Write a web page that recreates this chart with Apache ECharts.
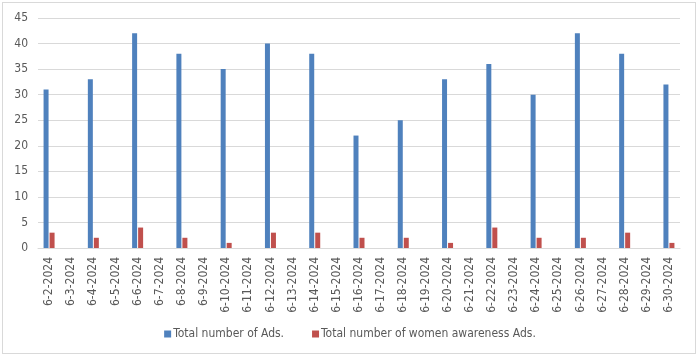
<!DOCTYPE html>
<html><head><meta charset="utf-8">
<script src="https://cdn.jsdelivr.net/npm/echarts@6/dist/echarts.min.js"></script>
<style>
html,body{margin:0;padding:0;background:#fff;}
#frame{position:absolute;left:2px;top:2px;width:694px;height:352px;border:1px solid #d9d9d9;box-sizing:border-box;}
#c{position:absolute;left:0;top:0;width:700px;height:358px;}
</style></head>
<body><div id="frame"></div><div id="c"></div>
<script>
const categories = ["6-2-2024","6-3-2024","6-4-2024","6-5-2024","6-6-2024","6-7-2024","6-8-2024","6-9-2024","6-10-2024","6-11-2024","6-12-2024","6-13-2024","6-14-2024","6-15-2024","6-16-2024","6-17-2024","6-18-2024","6-19-2024","6-20-2024","6-21-2024","6-22-2024","6-23-2024","6-24-2024","6-25-2024","6-26-2024","6-27-2024","6-28-2024","6-29-2024","6-30-2024"];
const totalAds = [31,null,33,null,42,null,38,null,35,null,40,null,38,null,22,null,25,null,33,null,36,null,30,null,42,null,38,null,32];
const womenAds = [3,null,2,null,4,null,2,null,1,null,3,null,3,null,2,null,2,null,1,null,4,null,2,null,2,null,3,null,1];
const yTicks = {min:0, max:45, interval:5};

const FONT = '"Liberation Sans Narrow","DejaVu Sans Condensed",sans-serif';
const chart = echarts.init(document.getElementById('c'), null, {renderer:'canvas'});
chart.setOption({
  animation:false,
  backgroundColor:'transparent',
  grid:{left:38, right:20, top:18, bottom:110, containLabel:false},
  legend:{
    top:323, left:'center', itemWidth:7, itemHeight:7, itemGap:28,
    icon:'rect',
    textStyle:{color:'#595959', fontSize:12, fontFamily:FONT, padding:[0,0,0,-3]},
    data:['Total number of Ads.','Total number of women awareness Ads.']
  },
  xAxis:{
    type:'category', data:categories,
    axisLine:{lineStyle:{color:'#d9d9d9'}},
    axisTick:{show:false},
    axisLabel:{rotate:90, interval:0, color:'#595959', fontSize:12, fontFamily:FONT, margin:9}
  },
  yAxis:{
    type:'value', min:yTicks.min, max:yTicks.max, interval:yTicks.interval,
    axisLine:{show:false}, axisTick:{show:false},
    splitLine:{lineStyle:{color:'#d9d9d9'}},
    axisLabel:{color:'#595959', fontSize:12, fontFamily:FONT, margin:10}
  },
  series:[
    {name:'Total number of Ads.', type:'bar', data:totalAds, barWidth:5, barGap:'20%', itemStyle:{color:'#4F81BD'}},
    {name:'Total number of women awareness Ads.', type:'bar', data:womenAds, barWidth:5, itemStyle:{color:'#C0504D'}}
  ]
});
</script></body></html>
